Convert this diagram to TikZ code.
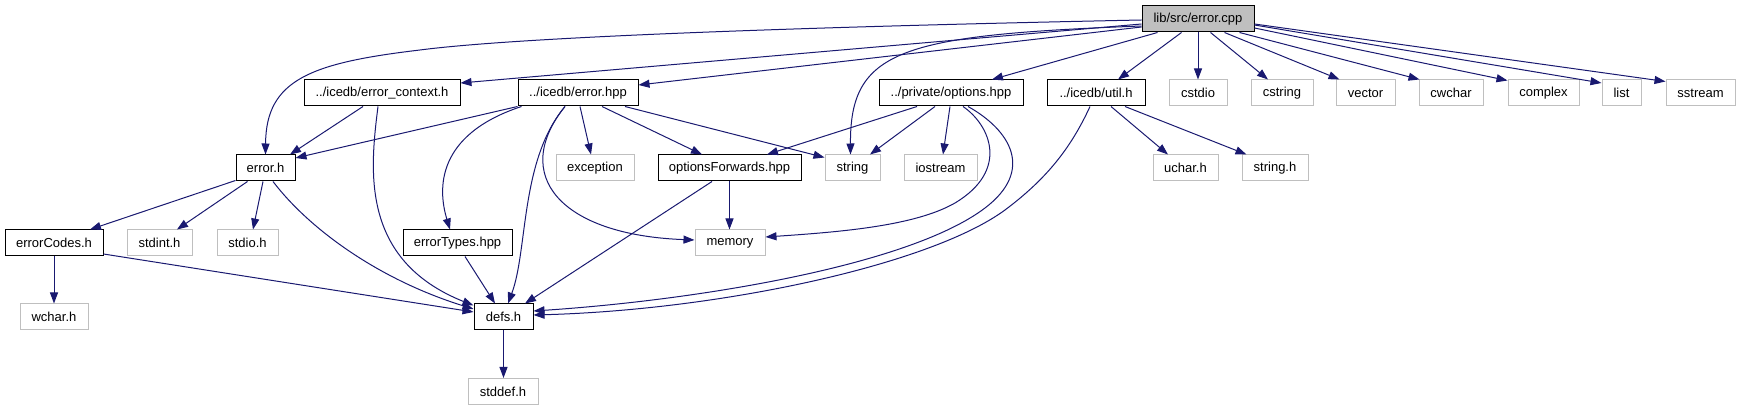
\documentclass[tikz,border=0pt]{standalone}
\usepackage{fontspec}
\setmainfont{Liberation Sans}
\usetikzlibrary{arrows.meta,calc}
\definecolor{edgeblue}{HTML}{191970}
\definecolor{greyl}{HTML}{BFBFBF}
\begin{document}
\begin{tikzpicture}[x=1pt,y=-1pt,
  basebox/.style={rectangle, minimum height=26pt, inner sep=0pt, font=\fontsize{13}{15}\selectfont, text=black},
  docbox/.style={basebox, draw=black, line width=1pt},
  extbox/.style={basebox, draw=greyl, line width=1pt},
  rootbox/.style={docbox, fill=greyl},
  depedge/.style={draw=edgeblue, line width=1pt, -{Triangle[length=11pt,width=8pt]}},
]
\useasboundingbox (0,0) rectangle (1741,411);
% row 1
\node[rootbox, minimum width=112pt] (root) at (1198,19) {lib/src/error.cpp};
% row 2
\node[docbox, minimum width=156pt] (ectx) at (382,93) {../icedb/error\_context.h};
\node[docbox, minimum width=120pt] (errhpp) at (578,93) {../icedb/error.hpp};
\node[docbox, minimum width=144pt] (opts) at (951,93) {../private/options.hpp};
\node[docbox, minimum width=98pt] (util) at (1096,93) {../icedb/util.h};
\node[extbox, minimum width=58pt] (cstdio) at (1198,93) {cstdio};
\node[extbox, minimum width=62pt] (cstring) at (1282,93) {cstring};
\node[extbox, minimum width=59pt] (vector) at (1365.5,93) {vector};
\node[extbox, minimum width=64pt] (cwchar) at (1451,93) {cwchar};
\node[extbox, minimum width=71pt] (complex) at (1543.5,93) {complex};
\node[extbox, minimum width=39pt] (list) at (1621.5,93) {list};
\node[extbox, minimum width=69pt] (sstream) at (1700.5,93) {sstream};
% row 3
\node[docbox, minimum width=59pt] (errh) at (265.5,168) {error.h};
\node[extbox, minimum width=78pt] (exception) at (595,168) {exception};
\node[docbox, minimum width=143pt] (optfwd) at (729.5,168) {optionsForwards.hpp};
\node[extbox, minimum width=55pt] (string) at (852.5,168) {string};
\node[extbox, minimum width=73pt] (iostream) at (940.5,168) {iostream};
\node[extbox, minimum width=65pt] (uchar) at (1185.5,168) {uchar.h};
\node[extbox, minimum width=66pt] (stringh) at (1275,168) {string.h};
% row 4
\node[docbox, minimum width=98pt] (errcodes) at (54,243) {errorCodes.h};
\node[extbox, minimum width=65pt] (stdint) at (159.5,243) {stdint.h};
\node[extbox, minimum width=61pt] (stdio) at (247.5,243) {stdio.h};
\node[docbox, minimum width=109pt] (errtypes) at (457.5,243) {errorTypes.hpp};
\node[extbox, minimum width=70pt] (memory) at (730,243) {memory};
% row 5
\node[extbox, minimum width=68pt] (wchar) at (54,317) {wchar.h};
\node[docbox, minimum width=59pt] (defs) at (503.5,317) {defs.h};
% row 6
\node[extbox, minimum width=70pt] (stddef) at (503,391.5) {stddef.h};

% edges from root
\draw[depedge] ($(root.west)+(0,1)$) .. controls (800,27) and (520,37) .. (420,50) .. controls (310,63) and (266,80) .. (errh.north);
\draw[depedge] ($(root.west)+(0,5)$) -- ($(ectx.east)+(0,-10)$);
\draw[depedge] ($(root.west)+(0,8)$) -- ($(errhpp.east)+(0,-8)$);
\draw[depedge] ($(root.west)+(0,7)$) .. controls (900,35) and (850,50) .. ($(string.north)+(-2,0)$);
\draw[depedge] ($(root.south west)+(16,0)$) -- ($(opts.north)+(41,0)$);
\draw[depedge] ($(root.south west)+(40,0)$) -- ($(util.north)+(22,0)$);
\draw[depedge] (root.south) -- (cstdio.north);
\draw[depedge] ($(root.south west)+(69,0)$) -- ($(cstring.north)+(-14,0)$);
\draw[depedge] ($(root.south west)+(83,0)$) -- ($(vector.north west)+(4,0)$);
\draw[depedge] ($(root.south west)+(98,0)$) -- ($(cwchar.north west)+(1,0)$);
\draw[depedge] ($(root.east)+(0,9)$) -- ($(complex.north west)+(0,1)$);
\draw[depedge] ($(root.east)+(0,6)$) -- ($(list.west)+(0,-10)$);
\draw[depedge] ($(root.east)+(0,5)$) -- ($(sstream.north west)+(0,2)$);

% error_context.h
\draw[depedge] ($(ectx.south)+(-19,0)$) -- ($(errh.north)+(24.5,0)$);
\draw[depedge] ($(ectx.south)+(-4,0)$) .. controls (370,170) and (360,260) .. ($(defs.north west)+(0,2)$);

% error.hpp
\draw[depedge] (errhpp.south west) -- ($(errh.east)+(0,-10)$);
\draw[depedge] ($(errhpp.south west)+(4,0)$) .. controls (435,135) and (438,190) .. ($(errtypes.north)+(-7.5,0)$);
\draw[depedge] ($(errhpp.south)+(-13,0)$) .. controls (520,160) and (528,250) .. ($(defs.north)+(4.5,0)$);
\draw[depedge] ($(errhpp.south)+(-13,0)$) .. controls (510,175) and (560,235) .. ($(memory.west)+(0,-3)$);
\draw[depedge] ($(errhpp.south)+(2,0)$) -- ($(exception.north)+(-4,0)$);
\draw[depedge] ($(errhpp.south)+(24,0)$) -- ($(optfwd.north)+(-27.5,0)$);
\draw[depedge] ($(errhpp.south)+(47,0)$) -- ($(string.north west)+(0,3)$);

% options.hpp
\draw[depedge] ($(opts.south)+(-34,0)$) -- ($(optfwd.north)+(37.5,0)$);
\draw[depedge] ($(opts.south)+(-16,0)$) -- ($(string.north)+(17.5,0)$);
\draw[depedge] ($(opts.south)+(-1,0)$) -- ($(iostream.north)+(2.5,0)$);
\draw[depedge] ($(opts.south)+(12,0)$) .. controls (990,125) and (1010,170) .. (955,203) .. controls (915,226) and (840,232) .. ($(memory.east)+(0,-6)$);
\draw[depedge] ($(opts.south)+(17,0)$) .. controls (1010,130) and (1035,170) .. (985,208) .. controls (910,265) and (700,300) .. ($(defs.east)+(0,-6)$);

% util.h
\draw[depedge] ($(util.south)+(-6,0)$) .. controls (1070,150) and (1045,180) .. (1005,210) .. controls (930,265) and (720,310) .. ($(defs.east)+(0,-2)$);
\draw[depedge] ($(util.south)+(15,0)$) -- ($(uchar.north)+(-17.5,0)$);
\draw[depedge] ($(util.south)+(29,0)$) -- ($(stringh.north west)+(5,0)$);

% error.h
\draw[depedge] ($(errh.south west)+(0,-1)$) -- ($(errcodes.north)+(36,0)$);
\draw[depedge] ($(errh.south west)+(12,0)$) -- ($(stdint.north)+(17.5,0)$);
\draw[depedge] ($(errh.south)+(-2.5,0)$) -- ($(stdio.north)+(5.5,0)$);
\draw[depedge] ($(errh.south)+(7.5,0)$) .. controls (310,230) and (380,280) .. ($(defs.west)+(0,-8)$);

% optionsForwards.hpp
\draw[depedge] (optfwd.south) -- (optfwd.south |- memory.north);
\draw[depedge] ($(optfwd.south)+(-17.5,0)$) -- ($(defs.north)+(21.5,0)$);

% errorTypes.hpp
\draw[depedge] ($(errtypes.south)+(7.5,0)$) -- ($(defs.north)+(-8.5,0)$);

% errorCodes.h
\draw[depedge] (errcodes.south) -- (wchar.north);
\draw[depedge] ($(errcodes.east)+(0,11)$) -- ($(defs.west)+(0,-5)$);

% defs.h
\draw[depedge] (defs.south) -- (defs.south |- stddef.north);
\end{tikzpicture}
\end{document}
